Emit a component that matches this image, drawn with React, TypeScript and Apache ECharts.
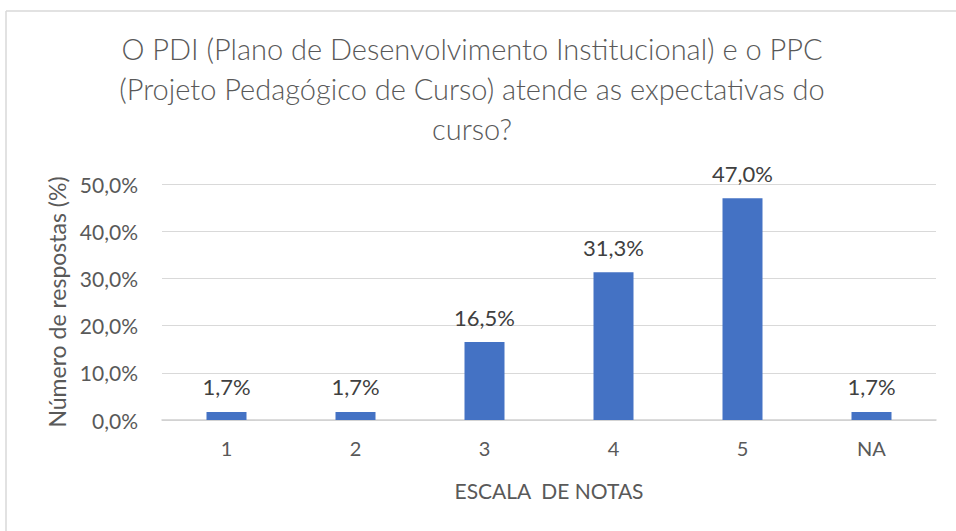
import React, { useEffect, useRef } from "react";
import * as echarts from "echarts";

const categories = ["1", "2", "3", "4", "5", "NA"];
const values = [1.7, 1.7, 16.5, 31.3, 47.0, 1.7];
const titleLines = [
  "O PDI (Plano de Desenvolvimento Institucional) e o PPC",
  "(Projeto Pedagógico de Curso) atende as expectativas do",
  "curso?",
];
const yAxisName = "Número de respostas (%)";
const xAxisName = "ESCALA  DE NOTAS";

const fmt = (v: number) => v.toFixed(1).replace(".", ",") + "%";
const FONT = "Lato, 'Open Sans', sans-serif";

export default function App() {
  const ref = useRef<HTMLDivElement>(null);
  useEffect(() => {
    if (!ref.current) return;
    const chart = echarts.init(ref.current, undefined, { renderer: "svg" });
    chart.setOption({
      animation: false,
      backgroundColor: "#ffffff",
      textStyle: { fontFamily: FONT },
      title: {
        text: titleLines.join("\n"),
        left: 467,
        top: 23,
        textAlign: "center",
        textStyle: {
          fontFamily: FONT,
          fontSize: 29,
          fontWeight: 300,
          color: "#595959",
          lineHeight: 40,
        },
      },
      graphic: [
        {
          type: "line",
          shape: { x1: 6, y1: 11, x2: 956, y2: 11 },
          style: { stroke: "#d9d9d9", lineWidth: 1.5 },
        },
        {
          type: "line",
          shape: { x1: 6, y1: 11, x2: 6, y2: 531 },
          style: { stroke: "#d9d9d9", lineWidth: 1.5 },
        },
      ],
      grid: { left: 162, right: 20, top: 184, bottom: 111, containLabel: false },
      xAxis: {
        type: "category",
        data: categories,
        name: xAxisName,
        nameLocation: "middle",
        nameGap: 60,
        nameTextStyle: { fontFamily: FONT, fontSize: 21, color: "#595959" },
        axisLine: { lineStyle: { color: "#d0d0d0", width: 1.5 } },
        axisTick: { show: false },
        axisLabel: { fontFamily: FONT, fontSize: 20, color: "#595959", margin: 18 },
      },
      yAxis: {
        type: "value",
        min: 0,
        max: 50,
        interval: 10,
        name: yAxisName,
        nameLocation: "middle",
        nameGap: 94,
        nameTextStyle: { fontFamily: FONT, fontSize: 23, color: "#595959" },
        axisLine: { show: false },
        axisTick: { show: false },
        splitLine: { lineStyle: { color: "#d9d9d9", width: 1 } },
        axisLabel: {
          fontFamily: FONT,
          fontSize: 21,
          color: "#595959",
          margin: 24,
          formatter: (v: number) => fmt(v),
        },
      },
      series: [
        {
          type: "bar",
          data: values,
          barWidth: 40,
          itemStyle: { color: "#4472C4" },
          label: {
            show: true,
            position: "top",
            distance: 14,
            fontFamily: FONT,
            fontSize: 22,
            color: "#404040",
            formatter: (p: any) => fmt(p.value),
          },
        },
      ],
    });
    return () => chart.dispose();
  }, []);
  return (
    <div
      ref={ref}
      style={{ position: "fixed", left: 0, top: 0, width: 956, height: 531 }}
    />
  );
}
